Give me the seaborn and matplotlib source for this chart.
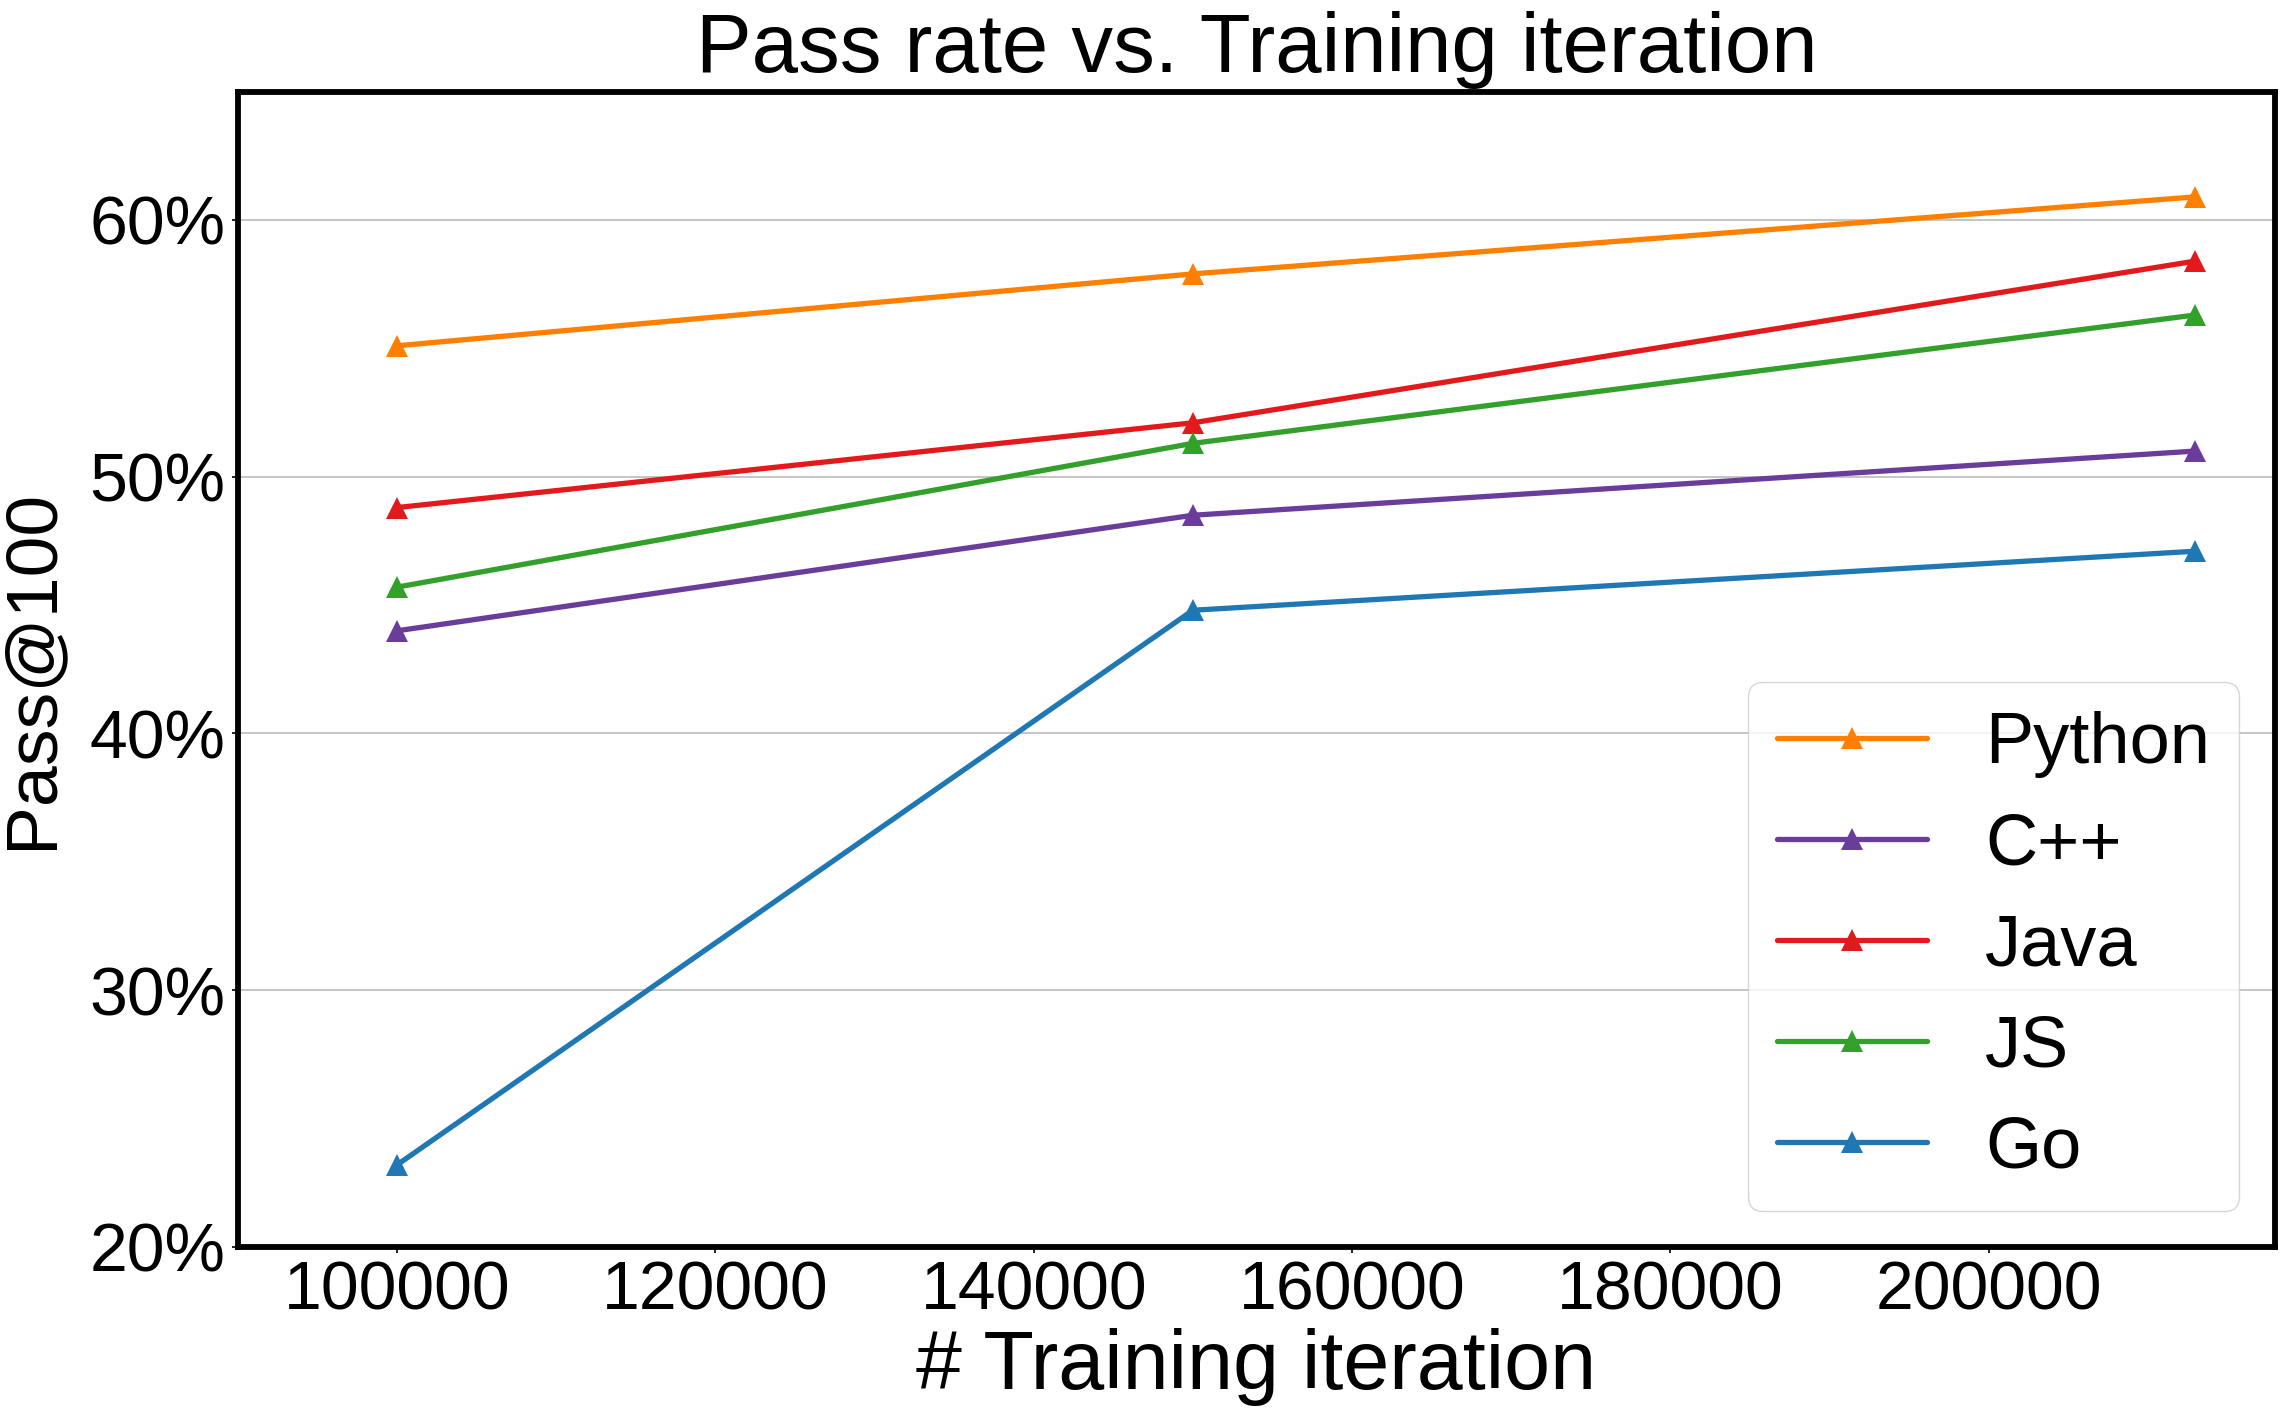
import matplotlib
matplotlib.use("Agg")
import matplotlib.pyplot as plt
import seaborn as sns
from matplotlib.ticker import PercentFormatter

# ---- data ----
iterations = [100000, 150000, 213000]
languages = ["Python", "C++", "Java", "JS", "Go"]
python_rate = [55.1, 57.9, 60.9]
cpp_rate = [44.0, 48.5, 51.0]
java_rate = [48.8, 52.1, 58.4]
js_rate = [45.7, 51.3, 56.3]
go_rate = [23.2, 44.8, 47.1]
colors = ["#ff7f00", "#6a3d9a", "#e31a1c", "#33a02c", "#1f78b4"]
x_ticks = [100000, 120000, 140000, 160000, 180000, 200000]
y_ticks = [20, 30, 40, 50, 60]

series = [python_rate, cpp_rate, java_rate, js_rate, go_rate]

sns.set_style("ticks")
plt.rcParams['font.family'] = ['Liberation Sans', 'DejaVu Sans']
plt.rcParams['text.color'] = 'black'
plt.rcParams['axes.labelcolor'] = 'black'
plt.rcParams['xtick.color'] = 'black'
plt.rcParams['ytick.color'] = 'black'

fig = plt.figure(figsize=(22.89, 14.25), dpi=100)
ax = fig.add_axes([238 / 2289, 1 - 1247 / 1425, (2275 - 238) / 2289, (1247 - 91.6) / 1425])

for name, vals, col in zip(languages, series, colors):
    sns.lineplot(x=iterations, y=vals, color=col, label=name, marker="^",
                 markersize=16, markeredgewidth=0, linewidth=3.8,
                 errorbar=None, ax=ax)

for ln in ax.get_lines():
    ln.set_linewidth(3.8)

ax.set_xlim(90000, 218000)
ax.set_ylim(20, 65)
ax.set_xticks(x_ticks)
ax.set_yticks(y_ticks)
ax.yaxis.set_major_formatter(PercentFormatter(100, decimals=0))

ax.set_axisbelow(True)
ax.yaxis.grid(True, color="#c0c0c0", linewidth=1.3)
ax.xaxis.grid(False)

for sp in ax.spines.values():
    sp.set_visible(True)
    sp.set_color("black")
    sp.set_linewidth(4.2)

ax.tick_params(axis="both", labelsize=49, length=4, width=1.2, colors="black", pad=5)

ax.set_title("Pass rate vs. Training iteration", fontsize=60, pad=14)
ax.set_xlabel("# Training iteration", fontsize=59.5, labelpad=3)
ax.set_ylabel("Pass@100", fontsize=52.8, labelpad=17)

leg = ax.legend(loc="lower right", fontsize=52, frameon=True, fancybox=True,
                edgecolor="0.8", framealpha=0.8, handlelength=2.08, labelspacing=0.47)
for h in leg.get_lines():
    h.set_linewidth(3.8)

fig.savefig("out.png", dpi=100)
